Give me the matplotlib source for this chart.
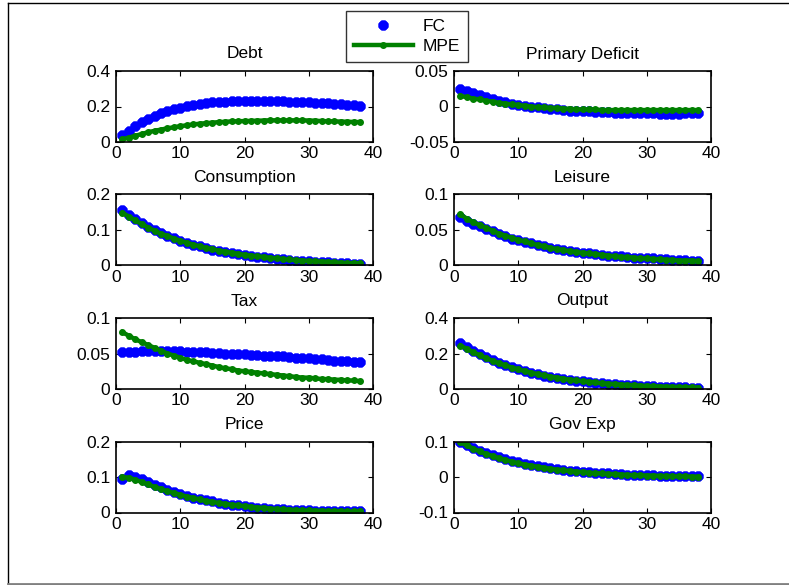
import matplotlib
matplotlib.use("Agg")
import matplotlib.pyplot as plt
from matplotlib.lines import Line2D
from matplotlib.ticker import FixedLocator, FixedFormatter

plt.rcParams['font.family'] = ['Liberation Sans', 'DejaVu Sans']

periods = list(range(1, 39))

titles = ["Debt", "Primary Deficit", "Consumption", "Leisure", "Tax", "Output", "Price", "Gov Exp"]

fc_debt = [0.038, 0.063, 0.088, 0.112, 0.132, 0.148, 0.162, 0.174, 0.185, 0.194, 0.202, 0.209, 0.214, 0.219,
           0.223, 0.226, 0.228, 0.23, 0.231, 0.232, 0.232, 0.232, 0.232, 0.231, 0.23, 0.229, 0.228, 0.226,
           0.225, 0.223, 0.221, 0.219, 0.217, 0.215, 0.213, 0.21, 0.208, 0.205]
mpe_debt = [0.015, 0.025, 0.035, 0.045, 0.055, 0.063, 0.07, 0.077, 0.083, 0.089, 0.094, 0.099, 0.103, 0.106,
            0.109, 0.112, 0.114, 0.116, 0.117, 0.118, 0.119, 0.12, 0.121, 0.122, 0.122, 0.122, 0.122, 0.122,
            0.122, 0.121, 0.12, 0.118, 0.117, 0.116, 0.115, 0.114, 0.113, 0.112]

fc_deficit = [0.025, 0.022, 0.019, 0.016, 0.013, 0.011, 0.008, 0.006, 0.004, 0.002, 0.001, 0.0, -0.001, -0.002,
              -0.003, -0.004, -0.005, -0.006, -0.006, -0.007, -0.007, -0.008, -0.008, -0.008, -0.009, -0.009,
              -0.009, -0.009, -0.009, -0.009, -0.009, -0.010, -0.010, -0.010, -0.010, -0.009, -0.009, -0.009]
mpe_deficit = [0.015, 0.013, 0.011, 0.010, 0.008, 0.007, 0.005, 0.004, 0.003, 0.002, 0.001, 0.0, -0.001, -0.001,
               -0.002, -0.002, -0.003, -0.003, -0.004, -0.004, -0.004, -0.004, -0.005, -0.005, -0.005, -0.005,
               -0.005, -0.005, -0.005, -0.005, -0.005, -0.005, -0.005, -0.005, -0.005, -0.005, -0.005, -0.005]

fc_cons = [0.155, 0.142, 0.130, 0.119, 0.109, 0.100, 0.091, 0.084, 0.077, 0.070, 0.064, 0.059, 0.054, 0.049,
           0.045, 0.041, 0.038, 0.035, 0.032, 0.029, 0.027, 0.025, 0.023, 0.021, 0.019, 0.017, 0.016, 0.014,
           0.013, 0.012, 0.011, 0.010, 0.009, 0.008, 0.007, 0.006, 0.005, 0.005]
mpe_cons = [0.148, 0.138, 0.127, 0.117, 0.107, 0.098, 0.090, 0.083, 0.076, 0.070, 0.064, 0.059, 0.054, 0.050,
            0.046, 0.042, 0.039, 0.036, 0.033, 0.030, 0.028, 0.026, 0.024, 0.022, 0.020, 0.018, 0.017, 0.015,
            0.014, 0.013, 0.012, 0.011, 0.010, 0.009, 0.008, 0.007, 0.007, 0.006]

fc_leisure = [0.068, 0.063, 0.059, 0.055, 0.051, 0.048, 0.044, 0.041, 0.038, 0.036, 0.033, 0.031, 0.029, 0.027,
              0.025, 0.023, 0.022, 0.020, 0.019, 0.018, 0.017, 0.016, 0.015, 0.014, 0.013, 0.013, 0.012, 0.011,
              0.011, 0.010, 0.010, 0.009, 0.009, 0.008, 0.008, 0.008, 0.007, 0.007]
mpe_leisure = [0.072, 0.066, 0.061, 0.057, 0.053, 0.049, 0.045, 0.042, 0.039, 0.036, 0.034, 0.031, 0.029, 0.027,
               0.025, 0.023, 0.022, 0.020, 0.019, 0.018, 0.017, 0.016, 0.015, 0.014, 0.013, 0.012, 0.012, 0.011,
               0.010, 0.010, 0.009, 0.009, 0.008, 0.008, 0.007, 0.007, 0.007, 0.006]

fc_tax = [0.052, 0.052, 0.052, 0.053, 0.053, 0.053, 0.053, 0.053, 0.053, 0.053, 0.052, 0.052, 0.052, 0.052,
          0.051, 0.051, 0.050, 0.050, 0.049, 0.049, 0.048, 0.048, 0.047, 0.047, 0.046, 0.046, 0.045, 0.044,
          0.044, 0.043, 0.042, 0.042, 0.041, 0.040, 0.040, 0.039, 0.038, 0.038]
mpe_tax = [0.080, 0.075, 0.070, 0.066, 0.062, 0.058, 0.054, 0.050, 0.047, 0.044, 0.041, 0.039, 0.037, 0.035,
           0.033, 0.031, 0.029, 0.028, 0.026, 0.025, 0.024, 0.023, 0.022, 0.021, 0.020, 0.019, 0.018, 0.017,
           0.016, 0.016, 0.015, 0.014, 0.014, 0.013, 0.013, 0.012, 0.012, 0.011]

fc_output = [0.26, 0.236, 0.215, 0.196, 0.178, 0.162, 0.147, 0.134, 0.122, 0.111, 0.101, 0.092, 0.084, 0.076,
             0.069, 0.063, 0.057, 0.052, 0.047, 0.043, 0.039, 0.036, 0.032, 0.029, 0.027, 0.024, 0.022, 0.020,
             0.018, 0.017, 0.015, 0.014, 0.012, 0.011, 0.010, 0.009, 0.008, 0.008]
mpe_output = [0.245, 0.226, 0.207, 0.190, 0.174, 0.159, 0.145, 0.133, 0.121, 0.111, 0.101, 0.092, 0.084, 0.077,
              0.070, 0.064, 0.058, 0.053, 0.048, 0.044, 0.040, 0.037, 0.033, 0.030, 0.028, 0.025, 0.023, 0.021,
              0.019, 0.017, 0.016, 0.014, 0.013, 0.012, 0.011, 0.010, 0.009, 0.008]

fc_price = [0.095, 0.105, 0.100, 0.093, 0.085, 0.078, 0.071, 0.064, 0.058, 0.052, 0.047, 0.042, 0.038, 0.034,
            0.031, 0.028, 0.025, 0.022, 0.020, 0.018, 0.016, 0.014, 0.013, 0.011, 0.010, 0.009, 0.008, 0.007,
            0.006, 0.006, 0.005, 0.005, 0.004, 0.004, 0.004, 0.003, 0.003, 0.003]
mpe_price = [0.100, 0.098, 0.092, 0.086, 0.079, 0.072, 0.066, 0.060, 0.055, 0.050, 0.045, 0.041, 0.037, 0.033,
             0.030, 0.027, 0.024, 0.022, 0.020, 0.018, 0.016, 0.014, 0.013, 0.011, 0.010, 0.009, 0.008, 0.007,
             0.006, 0.006, 0.005, 0.005, 0.004, 0.004, 0.004, 0.003, 0.003, 0.003]

fc_gov = [0.100, 0.090, 0.082, 0.074, 0.067, 0.061, 0.055, 0.050, 0.045, 0.041, 0.037, 0.033, 0.030, 0.027,
          0.025, 0.022, 0.020, 0.018, 0.016, 0.015, 0.013, 0.012, 0.011, 0.010, 0.009, 0.008, 0.007, 0.006,
          0.006, 0.005, 0.005, 0.004, 0.004, 0.003, 0.003, 0.003, 0.003, 0.002]
mpe_gov = [0.098, 0.089, 0.080, 0.072, 0.065, 0.059, 0.053, 0.048, 0.043, 0.039, 0.035, 0.032, 0.029, 0.026,
           0.023, 0.021, 0.019, 0.017, 0.015, 0.014, 0.012, 0.011, 0.010, 0.009, 0.008, 0.007, 0.006, 0.005,
           0.005, 0.004, 0.004, 0.003, 0.003, 0.002, 0.002, 0.002, 0.001, 0.001]

fc_series = [fc_debt, fc_deficit, fc_cons, fc_leisure, fc_tax, fc_output, fc_price, fc_gov]
mpe_series = [mpe_debt, mpe_deficit, mpe_cons, mpe_leisure, mpe_tax, mpe_output, mpe_price, mpe_gov]

y_ticks = [[0, 0.2, 0.4], [-0.05, 0, 0.05], [0, 0.1, 0.2], [0, 0.05, 0.1],
           [0, 0.05, 0.1], [0, 0.2, 0.4], [0, 0.1, 0.2], [-0.1, 0, 0.1]]
y_tick_labels = [["0", "0.2", "0.4"], ["-0.05", "0", "0.05"], ["0", "0.1", "0.2"], ["0", "0.05", "0.1"],
                 ["0", "0.05", "0.1"], ["0", "0.2", "0.4"], ["0", "0.1", "0.2"], ["-0.1", "0", "0.1"]]
x_ticks = [0, 10, 20, 30, 40]
x_tick_labels = ["0", "10", "20", "30", "40"]

W, H = 789, 585
fig = plt.figure(figsize=(W / 100, H / 100), dpi=100)
fig.patch.set_facecolor('white')

col_left = [116, 454]
ax_w = 257
row_top = [71, 194.5, 318, 441.5]
ax_h = 71
FS = 12.5

blue = '#0000ff'
green = '#008000'
handles = None
for i in range(8):
    r, c = divmod(i, 2)
    left = col_left[c] / W
    bottom = 1 - (row_top[r] + ax_h) / H
    ax = fig.add_axes([left, bottom, ax_w / W, ax_h / H])
    h1, = ax.plot(periods, fc_series[i], linestyle='none', marker=(8, 2, 0), color=blue,
                  markersize=7, markeredgewidth=2.8, label='FC')
    h2, = ax.plot(periods, mpe_series[i], color=green, linewidth=3.2, marker='.', markersize=8,
                  label='MPE')
    handles = [h1, h2]
    ax.set_xlim(0, 40)
    ax.set_ylim(y_ticks[i][0], y_ticks[i][-1])
    ax.xaxis.set_major_locator(FixedLocator(x_ticks))
    ax.xaxis.set_major_formatter(FixedFormatter(x_tick_labels))
    ax.yaxis.set_major_locator(FixedLocator(y_ticks[i]))
    ax.yaxis.set_major_formatter(FixedFormatter(y_tick_labels[i]))
    ax.tick_params(direction='in', length=3.5, width=0.8, top=True, right=True,
                   labelsize=FS, colors='black')
    ax.tick_params(axis='x', pad=3)
    ax.tick_params(axis='y', pad=4)
    for s in ax.spines.values():
        s.set_linewidth(1.2)
    ax.set_title(titles[i], fontsize=FS, pad=9)

leg = fig.legend(handles, ['FC', 'MPE'], loc='upper left',
                 bbox_to_anchor=(346 / W, 1 - 11 / H), fontsize=FS,
                 frameon=True, fancybox=False, edgecolor='black', borderpad=0.45,
                 handlelength=3.4, handletextpad=0.55, labelspacing=0.3, borderaxespad=0)
leg.get_frame().set_linewidth(1.0)

# outer frame lines
fig.add_artist(Line2D([8 / W, 8 / W], [1 - 3 / H, 1 - 583 / H], color='black', linewidth=1.0,
                      transform=fig.transFigure))
fig.add_artist(Line2D([8 / W, 1], [1 - 3 / H, 1 - 3 / H], color='black', linewidth=1.0,
                      transform=fig.transFigure))
fig.add_artist(Line2D([8 / W, 1], [1 - 583.5 / H, 1 - 583.5 / H], color='#808080', linewidth=2.0,
                      transform=fig.transFigure))

fig.savefig('out.png', dpi=100)
